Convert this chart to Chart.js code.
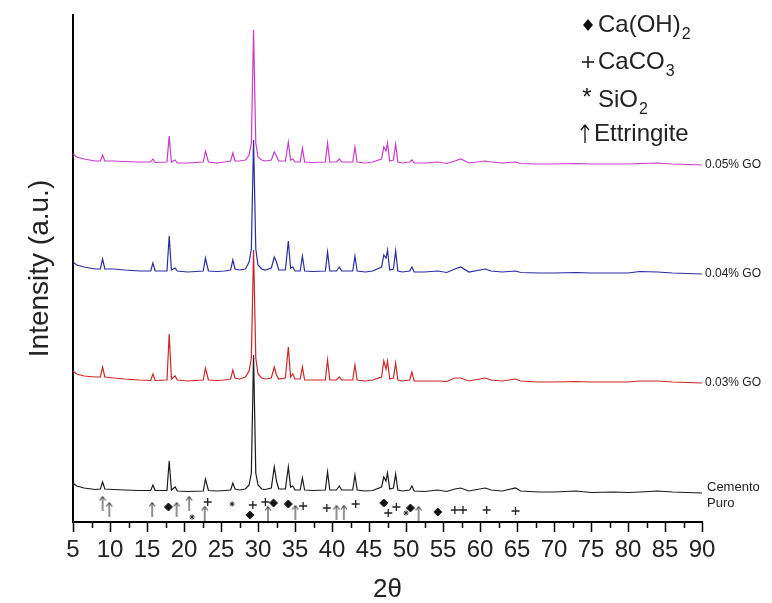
<!DOCTYPE html>
<html>
<head>
<meta charset="utf-8">
<script src="https://cdn.jsdelivr.net/npm/chart.js@4.4.1/dist/chart.umd.min.js"></script>
<style>
  html, body { margin: 0; padding: 0; background: #fff; }
  #wrap { width: 772px; height: 603px; }
</style>
</head>
<body>
<div id="wrap"><canvas id="xrdChart" width="772" height="603"></canvas></div>
<script>
// 2theta positions (deg) shared by all four patterns
const twoTheta = [
  5.0, 5.5, 6.5, 8.0, 8.7, 9.0, 9.3, 10.5, 12.0, 14.0,
  15.5, 15.8, 16.1, 17.7, 18.0, 18.3, 18.8, 19.1, 20.5, 22.6,
  22.9, 23.3, 24.5, 25.5, 26.3, 26.6, 26.9, 27.5, 28.3, 28.8,
  29.1, 29.4, 29.7, 30.0, 30.5, 31.0, 31.8, 32.2, 32.5, 32.8,
  33.7, 34.1, 34.4, 34.7, 35.0, 35.7, 36.0, 36.3, 37.5, 39.1,
  39.4, 39.7, 40.6, 41.0, 41.3, 42.8, 43.1, 43.4, 44.5, 45.5,
  46.7, 47.0, 47.3, 47.5, 47.8, 48.3, 48.6, 48.9, 49.5, 50.5,
  50.8, 51.1, 52.5, 54.3, 55.5, 56.6, 57.4, 58.5, 60.7, 61.5,
  63.0, 64.8, 65.5, 68.0, 70.0, 73.0, 75.0, 78.0, 80.0, 81.6,
  84.0, 86.0, 88.0, 90.0
];

// intensities (a.u.) above each pattern's own baseline
const cementoPuro = [
  10, 7, 5, 3.5, 4, 11, 4, 3.5, 3, 2.5,
  2.5, 8, 2.5, 2.5, 32, 3, 6, 2, 1.5, 2,
  14, 2.5, 2, 2.5, 3, 10, 4, 3, 4, 8,
  20, 138, 20, 8, 4, 3.5, 5, 26, 12, 4,
  4, 26, 6, 7, 3, 3, 15, 3, 2.5, 3,
  21, 3, 3, 7, 3, 3, 18, 3, 2, 2.5,
  6, 16, 12, 20, 4, 5, 19, 3, 2, 3,
  7, 2, 1.5, 3, 1.5, 4, 5, 2, 5, 3,
  2, 5, 2, 1, 1, 2, 0.5, 1, 0.5, 1,
  2, 1, 0.5, 0
];
const go003 = [
  12, 9, 7, 6, 6, 16, 6, 5, 4, 3,
  2.5, 9, 2.5, 3, 49, 4, 7, 3, 2, 3,
  15, 3, 2.5, 3, 4, 13, 5, 4, 6, 12,
  25, 133, 25, 9, 5, 4, 5, 16, 8, 4,
  5, 36, 6, 9, 4, 4, 16, 3, 3, 3,
  23, 3, 3, 6, 3, 3, 18, 3, 2, 3,
  6, 22, 14, 22, 4, 5, 20, 3, 2, 3,
  11, 2, 2, 2, 1.5, 5, 5, 2, 5, 3,
  2, 4, 2, 1, 1, 1.5, 1, 1, 1, 2,
  2, 1, 0.5, 0
];
const go004 = [
  12, 9, 7, 5, 5, 15, 5, 5, 4, 3,
  3, 11, 3, 3, 38, 4, 6, 3, 2, 3,
  16, 3, 2.5, 3, 4, 14, 5, 4, 5, 12,
  25, 134, 25, 9, 5, 4, 6, 17, 12, 4,
  4, 33, 6, 7, 3, 3, 18, 3, 2.5, 3,
  22, 3, 3, 7, 3, 3, 18, 3, 2, 3,
  7, 19, 16, 24, 4, 5, 23, 3, 2, 3,
  7, 2, 2, 3, 1.5, 5, 7, 2, 5, 3,
  2, 3, 1.5, 1, 1, 1.5, 1, 1, 1, 2.5,
  2, 1, 0.5, 0
];
const go005 = [
  11, 8, 6, 4, 4, 10, 4, 4, 3.5, 3,
  3, 6, 2.5, 3, 29, 3, 5, 2, 2, 3,
  14, 3, 2, 3, 4, 12, 4, 4, 5, 10,
  22, 135, 22, 8, 5, 4, 5, 13, 9, 4,
  4, 23, 5, 6, 3, 3, 17, 3, 2.5, 3,
  22, 3, 3, 6, 3, 3, 18, 3, 2, 3,
  6, 18, 14, 22, 4, 5, 21, 3, 2, 3,
  5, 2, 2, 3, 1.5, 4, 6, 2, 4, 3,
  2, 3, 1.5, 1, 1, 1.5, 1, 1, 1, 1.5,
  2, 1, 0.5, 0
];

const seriesNames = ['0.05% GO', '0.04% GO', '0.03% GO', 'Cemento Puro'];
const seriesValues = [go005, go004, go003, cementoPuro];
const stackOffsets = [357, 248, 139, 29];
const seriesColors = ['#cc3acc', '#2b2ba3', '#cc2626', '#1a1a1a'];

// phase reflections marked under the bottom pattern
const caOH2Peaks = [17.9, 28.9, 32.1, 34.1, 47.0, 50.6, 54.3];
const caOH2Level = [15, 7, 19, 18, 19, 14, 10];
const caCO3Peaks = [23.2, 29.3, 31.0, 36.1, 39.3, 43.2, 47.6, 48.7, 56.6, 57.7, 60.9, 64.8];
const caCO3Level = [20, 17, 20, 16, 14, 18, 9, 15, 12, 12, 12, 11];
const sio2Peaks = [21.1, 26.5, 50.0];
const sio2Level = [5, 18, 9];
const ettringitePeaks = [9.0, 9.9, 15.7, 19.0, 20.7, 22.8, 31.35, 35.05, 40.6, 41.6, 51.7];
const ettringiteLevel = [19, 13, 13, 13, 19, 9, 9, 10, 10, 10, 9];

const xRange = [5, 90];
const yRange = [0, 507];

function arrowImage() {
  const c = document.createElement('canvas');
  c.width = 8; c.height = 15;
  const g = c.getContext('2d');
  g.strokeStyle = '#222';
  g.lineWidth = 1;
  g.beginPath();
  g.moveTo(4, 15); g.lineTo(4, 1);
  g.moveTo(1, 5); g.lineTo(4, 1); g.lineTo(7, 5);
  g.stroke();
  return c;
}

const datasets = seriesNames.map((name, i) => ({
  label: name,
  data: twoTheta.map((t, k) => ({ x: t, y: seriesValues[i][k] + stackOffsets[i] })),
  borderColor: seriesColors[i],
  borderWidth: 1.2,
  pointRadius: 0,
  tension: 0,
  fill: false,
  order: i + 5
}));

function markerSet(label, peaks, levels, style, extra) {
  return Object.assign({
    label: label,
    type: 'scatter',
    data: peaks.map((p, i) => ({ x: p, y: levels[i] })),
    pointStyle: style,
    borderColor: '#222',
    backgroundColor: '#111',
    showLine: false,
    order: 1
  }, extra);
}

datasets.push(markerSet('Ca(OH)2', caOH2Peaks, caOH2Level, 'rectRot', { pointRadius: 4, borderWidth: 1 }));
datasets.push(markerSet('CaCO3', caCO3Peaks, caCO3Level, 'cross', { pointRadius: 4, borderWidth: 1.3 }));
datasets.push(markerSet('SiO2', sio2Peaks, sio2Level, 'star', { pointRadius: 2.5, borderWidth: 1 }));
datasets.push(markerSet('Ettringite', ettringitePeaks, ettringiteLevel, arrowImage(), { pointRadius: 7 }));

const legendItems = [
  { sym: 'diamond', text: 'Ca(OH)', sub: '2', y: 25 },
  { sym: 'plus', text: 'CaCO', sub: '3', y: 62 },
  { sym: 'star', text: 'SiO', sub: '2', y: 100 },
  { sym: 'arrow', text: 'Ettringite', sub: '', y: 134 }
];

const annotations = {
  id: 'annotations',
  afterDraw(chart) {
    const { ctx, chartArea, scales } = chart;
    const xs = scales.x, ys = scales.y;
    ctx.save();

    // minor ticks between the labelled ones
    ctx.strokeStyle = '#000';
    ctx.lineWidth = 1.5;
    const t = xs.ticks;
    for (let i = 0; i < t.length - 1; i++) {
      const px = Math.round(xs.getPixelForValue((t[i].value + t[i + 1].value) / 2)) + 0.5;
      ctx.beginPath();
      ctx.moveTo(px, chartArea.bottom);
      ctx.lineTo(px, chartArea.bottom + 6);
      ctx.stroke();
    }

    // pattern names at the right end
    ctx.fillStyle = '#222';
    ctx.textAlign = 'left';
    ctx.textBaseline = 'middle';
    const lx = chartArea.right + 3;
    ctx.font = '12px "Liberation Sans", Arial, sans-serif';
    for (let i = 0; i < 3; i++) {
      ctx.fillText(seriesNames[i], lx, ys.getPixelForValue(stackOffsets[i]));
    }
    ctx.font = '13px "Liberation Sans", Arial, sans-serif';
    const by = ys.getPixelForValue(stackOffsets[3]);
    const parts = seriesNames[3].split(' ');
    ctx.fillText(parts[0], lx + 2, by - 6);
    ctx.fillText(parts[1], lx + 2, by + 10);

    // phase legend
    const sx = 588, tx = 598;
    legendItems.forEach(it => {
      ctx.fillStyle = '#111';
      ctx.strokeStyle = '#111';
      ctx.lineWidth = 1.5;
      if (it.sym === 'diamond') {
        ctx.beginPath();
        ctx.moveTo(sx, it.y - 6); ctx.lineTo(sx + 5, it.y);
        ctx.lineTo(sx, it.y + 6); ctx.lineTo(sx - 5, it.y);
        ctx.closePath(); ctx.fill();
      } else if (it.sym === 'plus') {
        ctx.beginPath();
        ctx.moveTo(sx - 6, it.y); ctx.lineTo(sx + 6, it.y);
        ctx.moveTo(sx, it.y - 6); ctx.lineTo(sx, it.y + 6);
        ctx.stroke();
      } else if (it.sym === 'star') {
        ctx.font = '24px "Liberation Sans", Arial, sans-serif';
        ctx.textAlign = 'center';
        ctx.fillText('*', sx - 1, it.y - 2);
      } else {
        ctx.lineWidth = 1.3;
        ctx.beginPath();
        ctx.moveTo(sx - 3, it.y + 9); ctx.lineTo(sx - 3, it.y - 9);
        ctx.moveTo(sx - 7, it.y - 4); ctx.lineTo(sx - 3, it.y - 9); ctx.lineTo(sx + 1, it.y - 4);
        ctx.stroke();
      }
      ctx.fillStyle = '#222';
      ctx.textAlign = 'left';
      ctx.font = '24px "Liberation Sans", Arial, sans-serif';
      const txx = it.sym === 'arrow' ? tx - 4 : tx;
      ctx.fillText(it.text, txx, it.y);
      if (it.sub) {
        const w = ctx.measureText(it.text).width;
        ctx.font = '16px "Liberation Sans", Arial, sans-serif';
        ctx.fillText(it.sub, txx + w + 1, it.y + 10);
      }
    });
    ctx.restore();
  }
};

new Chart(document.getElementById('xrdChart').getContext('2d'), {
  type: 'line',
  data: { datasets: datasets },
  plugins: [annotations],
  options: {
    responsive: false,
    devicePixelRatio: 1,
    animation: false,
    layout: { padding: { left: 0, right: 70, top: 15, bottom: 0 } },
    plugins: {
      legend: { display: false },
      tooltip: { enabled: false }
    },
    scales: {
      x: {
        type: 'linear',
        min: xRange[0],
        max: xRange[1],
        afterFit: s => { s.height = 81; },
        ticks: {
          stepSize: 5,
          autoSkip: false,
          maxRotation: 0,
          padding: 4,
          color: '#222',
          font: { family: '"Liberation Sans", Arial, sans-serif', size: 24 }
        },
        grid: { drawOnChartArea: false, drawTicks: true, tickLength: 10, tickWidth: 1.5, tickColor: '#000' },
        border: { display: true, color: '#000', width: 2 },
        title: {
          display: true,
          text: '2θ',
          color: '#222',
          padding: { top: 0, bottom: 0 },
          font: { family: '"Liberation Sans", Arial, sans-serif', size: 26, lineHeight: 1 }
        }
      },
      y: {
        min: yRange[0],
        max: yRange[1],
        afterFit: s => { s.width = 73; },
        ticks: { display: false },
        grid: { drawOnChartArea: false, drawTicks: false },
        border: { display: true, color: '#000', width: 2 },
        title: {
          display: true,
          text: 'Intensity (a.u.)',
          color: '#222',
          padding: { top: 23, bottom: 0 },
          font: { family: '"Liberation Sans", Arial, sans-serif', size: 28, lineHeight: 1.2 }
        }
      }
    }
  }
});
</script>
</body>
</html>
